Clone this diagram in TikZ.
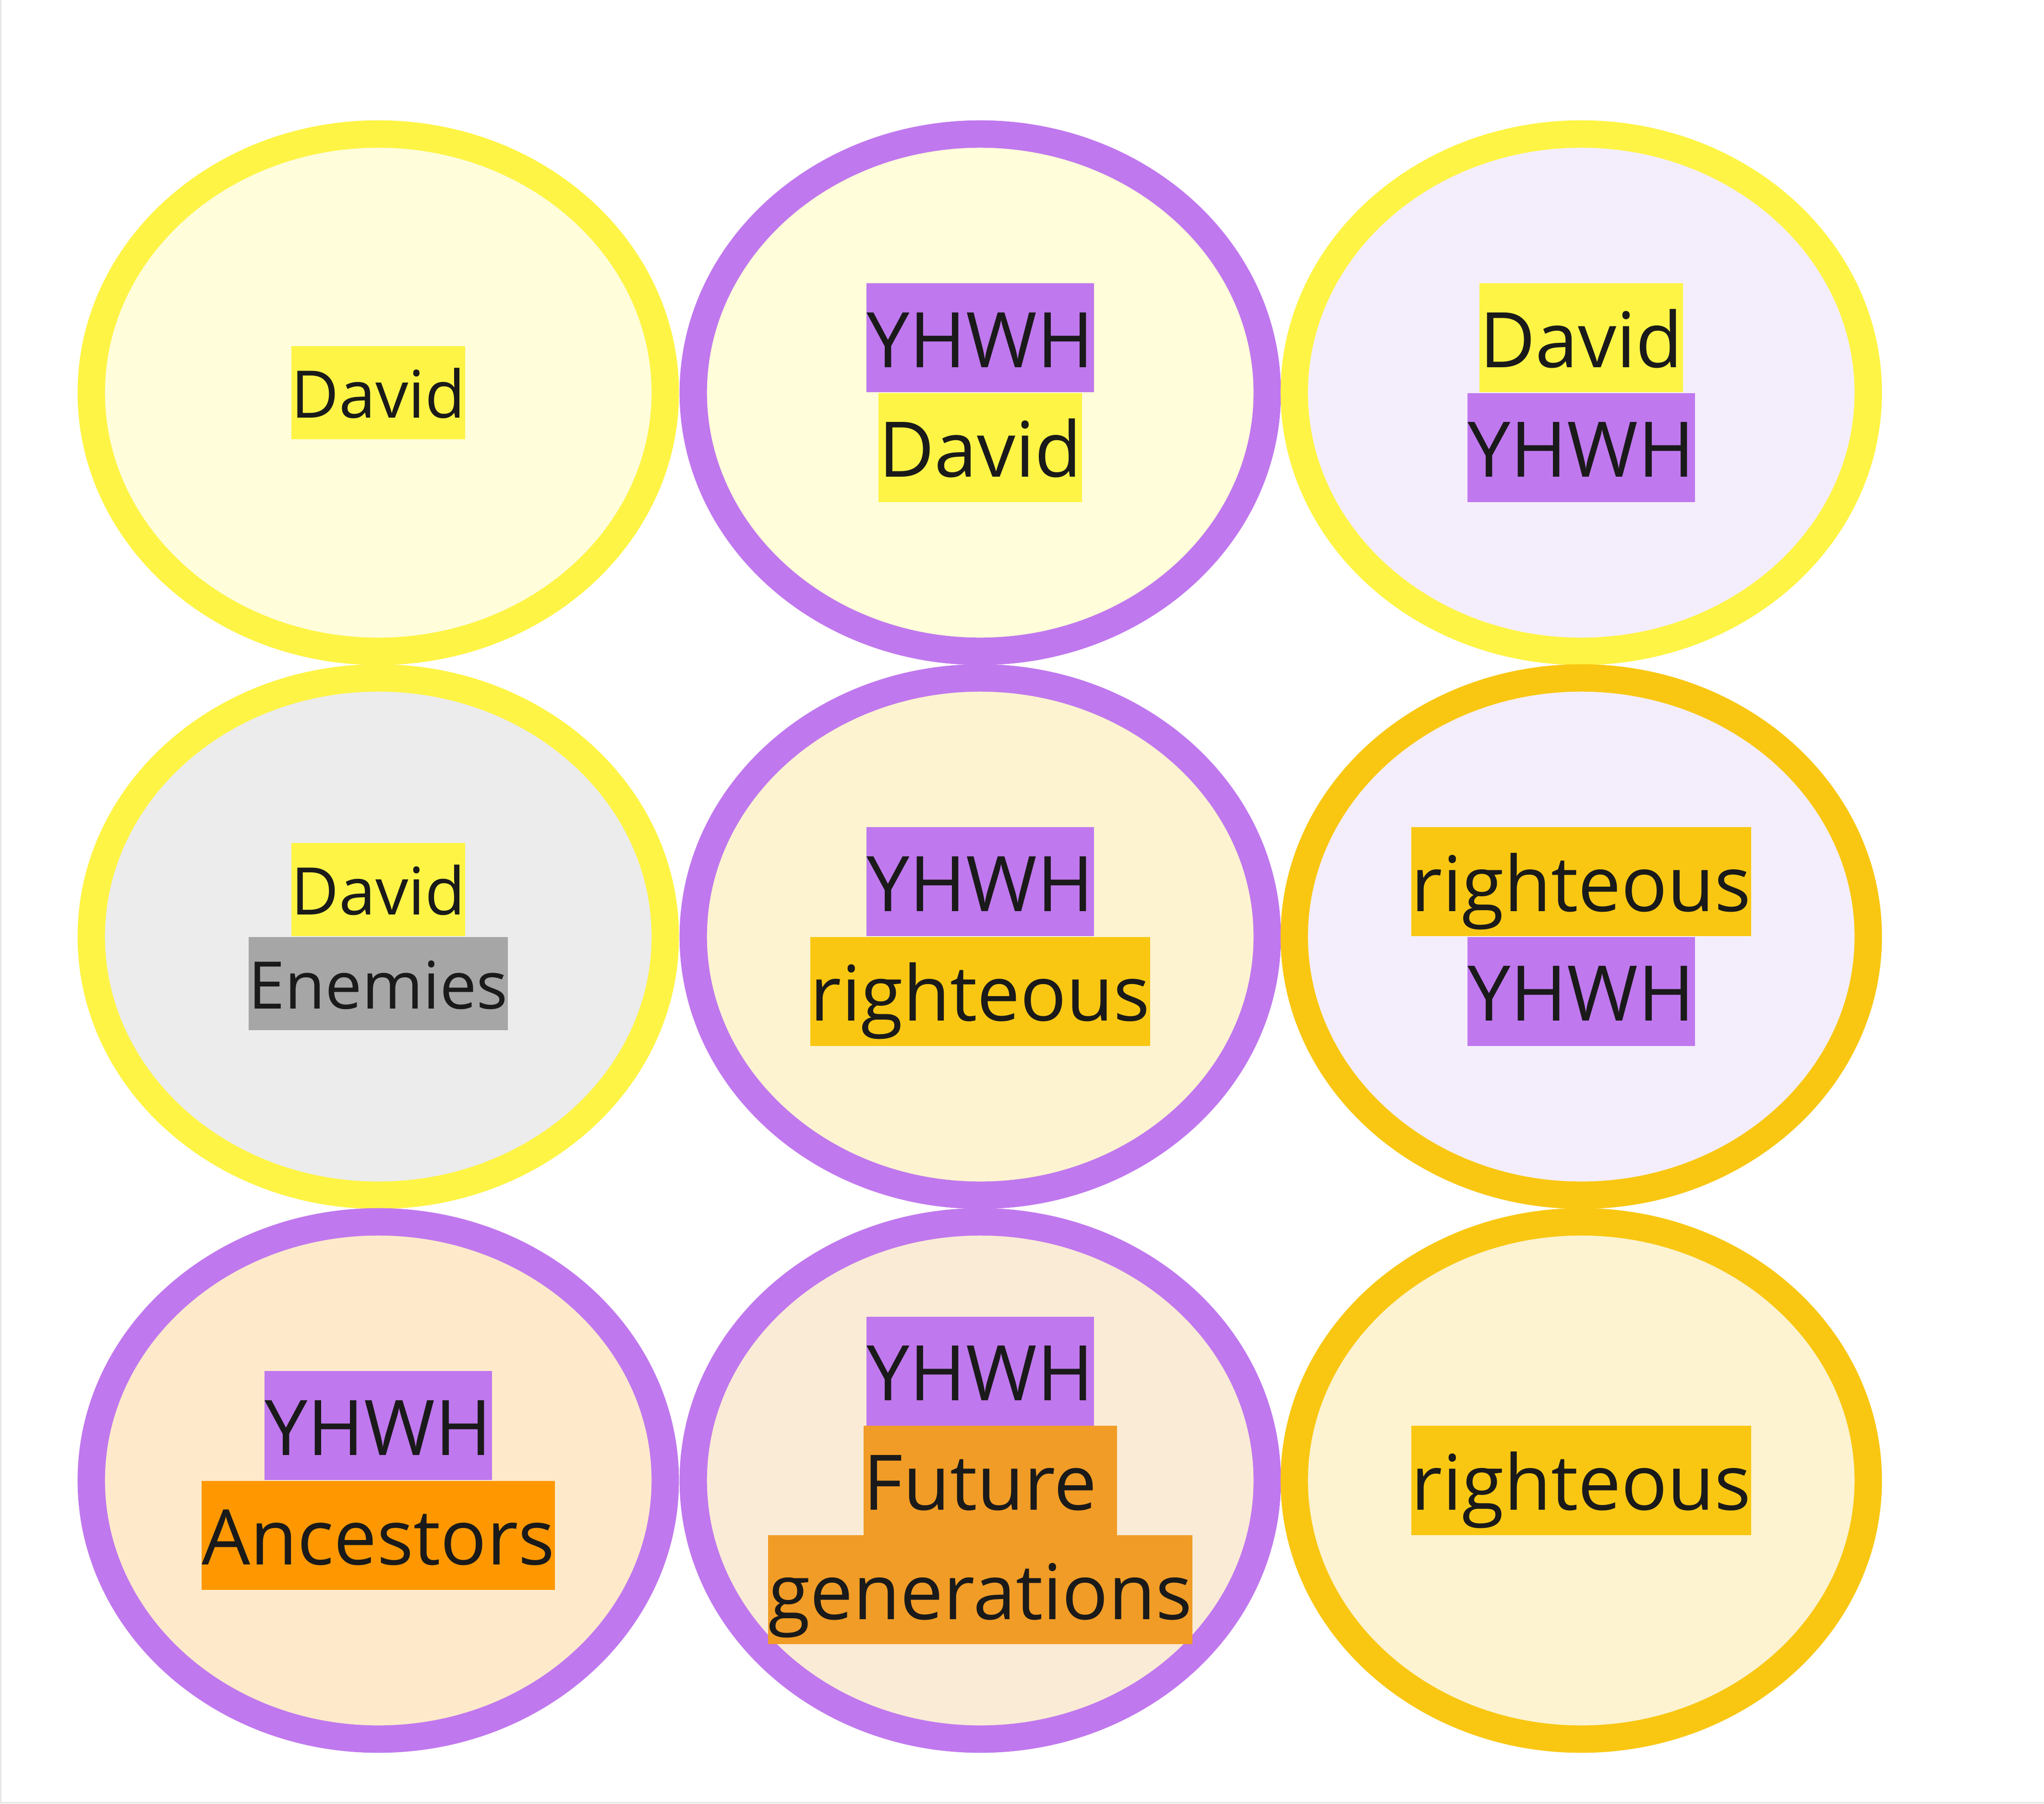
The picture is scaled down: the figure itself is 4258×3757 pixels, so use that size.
\documentclass[tikz,border=0pt]{standalone}
\usepackage{fontspec}
\setmainfont{Open Sans}
\usetikzlibrary{shapes.geometric}
\definecolor{ylw}{HTML}{FEF445}
\definecolor{ylwfill}{HTML}{FFFDDA}
\definecolor{pur}{HTML}{C078EE}
\definecolor{purfill}{HTML}{F4EEFC}
\definecolor{gld}{HTML}{F9C712}
\definecolor{gldfill}{HTML}{FDF3D1}
\definecolor{gryfill}{HTML}{ECECEC}
\definecolor{gry}{HTML}{A6A6A6}
\definecolor{orng}{HTML}{FF9800}
\definecolor{orngfill}{HTML}{FEEACB}
\definecolor{orng2}{HTML}{F19C26}
\definecolor{orng2fill}{HTML}{FAEBD6}
\definecolor{txt}{HTML}{1A1A1A}
\definecolor{frame}{HTML}{E6E6E6}
\begin{document}
\begin{tikzpicture}[x=0.01cm,y=-0.01cm,
  ring/.style={ellipse, draw, line width=0.57cm, minimum width=11.95cm, minimum height=10.77cm, inner sep=0pt},
  bigtxt/.style={inner xsep=0pt, inner ysep=0pt, text height=1.75cm, text depth=0.52cm, font=\fontsize{45.44pt}{54pt}\selectfont, text=txt},
  smalltxt/.style={inner xsep=0pt, inner ysep=0pt, text height=1.50cm, text depth=0.445cm, font=\fontsize{38.87pt}{46pt}\selectfont, text=txt},
]
\useasboundingbox (0,0) rectangle (4258,3757);
\fill[white] (0,0) rectangle (4258,3757);
\coordinate (fa) at (1.5,0);
\coordinate (fb) at (1.5,3755.5);
\coordinate (fc) at (4258,3755.5);
\draw[frame, line width=0.03cm] (fa) -- (fb) -- (fc);

% ellipses
\node[ring, draw=ylw, fill=ylwfill] (e1) at (788,818) {};
\node[ring, draw=pur, fill=ylwfill] (e2) at (2042,818) {};
\node[ring, draw=ylw, fill=purfill] (e3) at (3294,818) {};
\node[ring, draw=ylw, fill=gryfill] (e4) at (788,1951) {};
\node[ring, draw=pur, fill=gldfill] (e5) at (2042,1951) {};
\node[ring, draw=gld, fill=purfill] (e6) at (3294,1951) {};
\node[ring, draw=pur, fill=orngfill] (e7) at (788,3084) {};
\node[ring, draw=pur, fill=orng2fill] (e8) at (2042,3084) {};
\node[ring, draw=gld, fill=gldfill] (e9) at (3294,3084) {};

% texts
\node[smalltxt, fill=ylw] (t1) at (e1.center) {David};

\node[bigtxt, fill=pur, anchor=south] (t2a) at (e2.center) {YHWH};
\node[bigtxt, fill=ylw, anchor=north] (t2b) at (e2.center) {David};

\node[bigtxt, fill=ylw, anchor=south] (t3a) at (e3.center) {David};
\node[bigtxt, fill=pur, anchor=north] (t3b) at (e3.center) {YHWH};

\node[smalltxt, fill=ylw, anchor=south] (t4a) at (e4.center) {David};
\node[smalltxt, fill=gry, anchor=north] (t4b) at (e4.center) {Enemies};

\node[bigtxt, fill=pur, anchor=south] (t5a) at (e5.center) {YHWH};
\node[bigtxt, fill=gld, anchor=north] (t5b) at (e5.center) {righteous};

\node[bigtxt, fill=gld, anchor=south] (t6a) at (e6.center) {righteous};
\node[bigtxt, fill=pur, anchor=north] (t6b) at (e6.center) {YHWH};

\node[bigtxt, fill=pur, anchor=south] (t7a) at (e7.center) {YHWH};
\node[bigtxt, fill=orng, anchor=north] (t7b) at (e7.center) {Ancestors};

\node[bigtxt, fill=orng2, xshift=0.2076cm] (t8b) at (e8.center) {Future\kern0.26em};
\node[bigtxt, fill=pur, anchor=south] (t8a) at (2042,2970.5) {YHWH};
\node[bigtxt, fill=orng2, anchor=north] (t8c) at (2042,3197.5) {generations};

\node[bigtxt, fill=gld] (t9) at (e9.center) {righteous};
\end{tikzpicture}
\end{document}
